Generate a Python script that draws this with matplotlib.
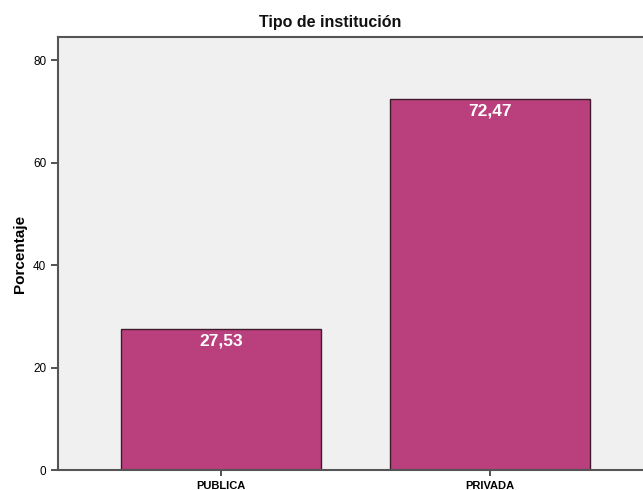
import matplotlib.pyplot as plt

plt.rcParams["font.family"] = ["Liberation Sans", "DejaVu Sans"]

# datos
categorias = ["PUBLICA", "PRIVADA"]
porcentajes = [27.53, 72.47]
etiquetas = ["27,53", "72,47"]

fig = plt.figure(figsize=(6.43, 4.90), dpi=100)
ax = fig.add_axes([58 / 643, 20 / 490, 595 / 643, 433 / 490])
ax.set_facecolor("#F0F0F0")

x = range(len(categorias))
barras = ax.bar(x, porcentajes, width=0.747, color="#BA3F7D",
                edgecolor="#3d1a2c", linewidth=1.0)

# etiquetas dentro de las barras
for b, txt in zip(barras, etiquetas):
    ax.annotate(txt, (b.get_x() + b.get_width() / 2, b.get_height()),
                xytext=(0, -9), textcoords="offset points",
                ha="center", va="center", color="white",
                fontsize=12.5, fontweight="bold")

ax.set_xlim(-0.606, 1.606)
ax.set_ylim(0, 84.5)
ax.set_yticks([0, 20, 40, 60, 80])
ax.set_xticks(list(x))
ax.set_xticklabels(categorias, fontsize=8, fontweight="bold")
ax.tick_params(axis="y", labelsize=8.5, length=5, width=1.2, color="#333333")
ax.tick_params(axis="x", length=4, width=1.2, color="#333333", pad=4)

for s in ax.spines.values():
    s.set_color("#555555")
    s.set_linewidth(1.5)

ax.set_ylabel("Porcentaje", fontsize=11, fontweight="bold", labelpad=4)
fig.text(330 / 643, 1 - 23 / 490, "Tipo de institución", ha="center",
         va="center", fontsize=11.5, fontweight="bold", color="#111111")

plt.savefig("out.png", dpi=100)
